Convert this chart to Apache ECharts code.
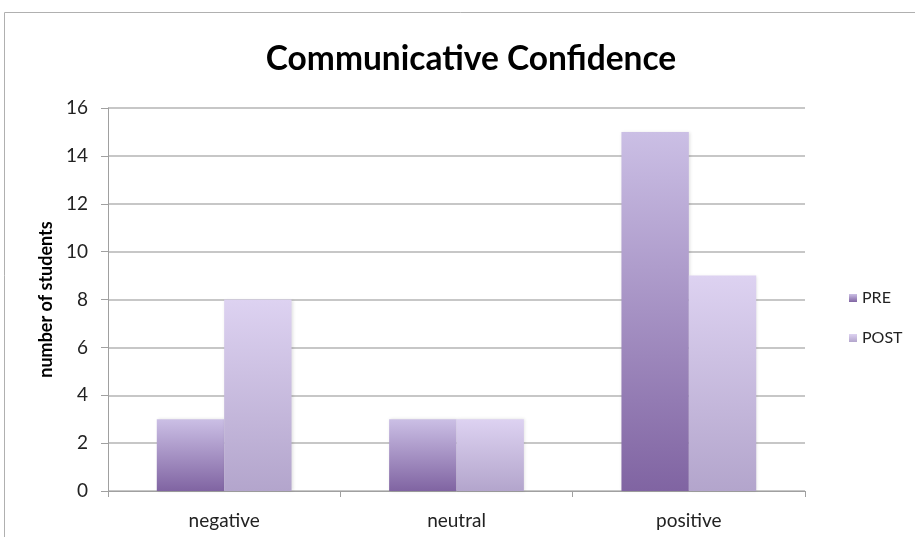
<!DOCTYPE html>
<html>
<head>
<meta charset="utf-8">
<script src="https://cdn.jsdelivr.net/npm/echarts@6/dist/echarts.min.js"></script>
<style>
  html, body { margin: 0; padding: 0; background: #fff; }
  #chart { width: 915px; height: 537px; }
</style>
</head>
<body>
<div id="chart"></div>
<script>
const categories = ['negative', 'neutral', 'positive'];
const preValues = [3, 3, 15];
const postValues = [8, 3, 9];

const FONT = 'Lato, "Open Sans", sans-serif';

// vertical gradient per bar, light at top
const grad = (top, bottom) => new echarts.graphic.LinearGradient(0, 0, 0, 1, [
  { offset: 0, color: top },
  { offset: 1, color: bottom }
]);

const chart = echarts.init(document.getElementById('chart'), null, { renderer: 'canvas' });

chart.setOption({
  animation: false,
  title: {
    text: 'Communicative Confidence',
    left: 466,
    textAlign: 'center',
    top: 37,
    textStyle: { fontFamily: FONT, fontWeight: 'bold', fontSize: 33.5, color: '#000' }
  },
  legend: {
    orient: 'vertical',
    left: 844,
    top: 285,
    itemWidth: 8,
    itemHeight: 8,
    itemGap: 24,
    icon: 'rect',
    textStyle: { fontFamily: FONT, fontSize: 16, color: '#222' },
    data: ['PRE', 'POST']
  },
  // chart frame
  graphic: [{
    type: 'rect',
    shape: { x: 4.5, y: 12.5, width: 1000, height: 600 },
    style: { fill: null, stroke: '#b0b0b0', lineWidth: 1 },
    silent: true
  }],
  grid: { left: 108, right: 110, top: 108, bottom: 46 },
  xAxis: {
    type: 'category',
    data: categories,
    axisLine: { lineStyle: { color: '#a0a0a0', width: 1 } },
    axisTick: { show: true, length: 6, lineStyle: { color: '#a0a0a0' } },
    axisLabel: { fontFamily: FONT, fontSize: 19, color: '#222', margin: 20 }
  },
  yAxis: {
    type: 'value',
    min: 0,
    max: 16,
    interval: 2,
    name: 'number of students',
    nameLocation: 'middle',
    nameGap: 47,
    nameTextStyle: { fontFamily: FONT, fontWeight: 'bold', fontSize: 18, color: '#000' },
    axisLine: { show: true, lineStyle: { color: '#a0a0a0', width: 1 } },
    axisTick: { show: true, length: 7, inside: false, lineStyle: { color: '#a0a0a0' } },
    axisLabel: { fontFamily: FONT, fontSize: 19, color: '#222', margin: 20 },
    splitLine: { lineStyle: { color: '#b4b4b4', width: 1.5 } }
  },
  series: [
    {
      name: 'PRE',
      type: 'bar',
      data: preValues,
      barGap: '0%',
      barCategoryGap: '42%',
      itemStyle: {
        color: grad('#cbbfe5', '#8064a2'),
        shadowColor: 'rgba(0,0,0,0.12)',
        shadowBlur: 3,
        shadowOffsetX: 1
      }
    },
    {
      name: 'POST',
      type: 'bar',
      data: postValues,
      itemStyle: {
        color: grad('#ddd2f1', '#b3a5cc'),
        shadowColor: 'rgba(0,0,0,0.12)',
        shadowBlur: 3,
        shadowOffsetX: 1
      }
    }
  ]
});
</script>
</body>
</html>
